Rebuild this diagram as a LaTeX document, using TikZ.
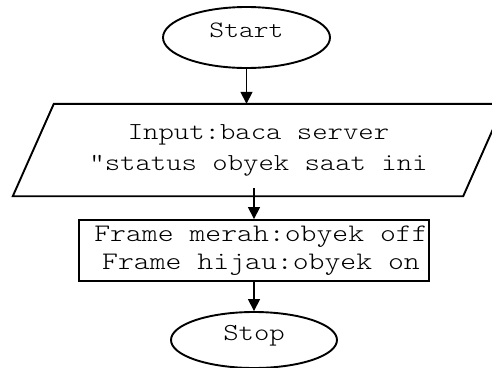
\documentclass[tikz,border=0pt]{standalone}
\usepackage{fontspec}
% light typewriter face, widened a little
\newfontfamily\flowfont[FakeStretch=1.2]{lmmonolt10-regular.otf}
\usetikzlibrary{shapes.geometric,arrows.meta}
\begin{document}
\begin{tikzpicture}[x=1pt,y=-1pt,
  outline/.style={line width=1.9pt},
  terminal/.style={ellipse,draw,outline,inner sep=0pt,
    minimum width=167pt,minimum height=61pt,
    font=\flowfont\fontsize{23.5}{28}\selectfont,
    text height=10pt,text depth=10pt},
  iobox/.style={rectangle,inner sep=0pt,align=center,
    minimum width=409pt,minimum height=92pt,
    font=\flowfont\fontsize{24.4}{31}\selectfont},
  procbox/.style={rectangle,draw,outline,inner sep=0pt,
    minimum width=350pt,minimum height=61pt},
  proctext/.style={inner sep=0pt,align=center,
    font=\flowfont\fontsize{25.2}{28}\selectfont},
  flow/.style={line width=1.6pt,-{Triangle[length=12pt,width=12pt]}}]
\useasboundingbox (0,0) rectangle (492,367);
\clip (0,0) rectangle (492,367);

% terminals
\node[terminal] (start) at (246.5,37.5) {Start};
\node[terminal,minimum width=166pt,minimum height=56pt,
  font=\flowfont\fontsize{24.4}{28}\selectfont] (stop) at (254,340) {Stop};

% input (parallelogram around the text node)
\node[iobox] (in) at (258.5,150) {Input:baca server\\“status obyek saat ini};
\draw[outline] ([xshift=-41pt]in.south west) -- (in.south east)
  -- ([xshift=41pt]in.north east) -- (in.north west) -- cycle;

% process box
\node[procbox,label={[proctext,xshift=7pt]center:{Frame merah:obyek off\\Frame hijau:obyek on}}]
  (out) at (254,250.5) {};

% connectors
\draw[flow] (start.south) -- (start.south |- in.north);
\draw[flow] ([yshift=8pt]in.south -| out.north) -- (out.north);
\draw[flow] (out.south) -- (stop.north);
\end{tikzpicture}
\end{document}
